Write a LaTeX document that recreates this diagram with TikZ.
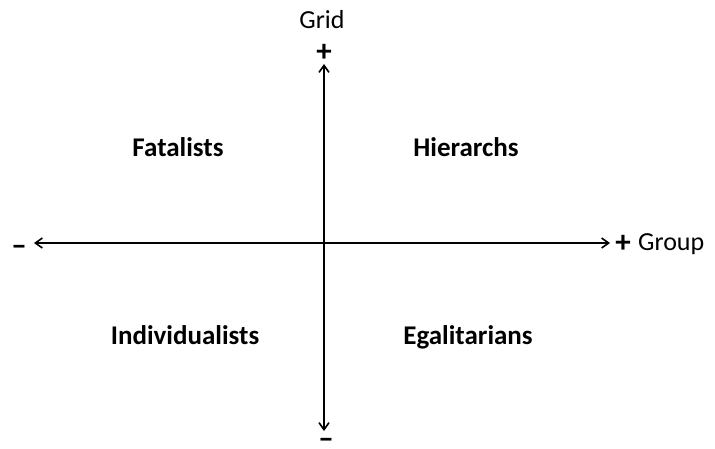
\documentclass[tikz,border=0pt]{standalone}
\usepackage{fontspec}
\setmainfont{Carlito}
\usetikzlibrary{arrows.meta}
\begin{document}
\begin{tikzpicture}[x=1pt,y=-1pt,
  axis/.style={line width=1.6pt,{Straight Barb[length=7pt,width=10pt]}-{Straight Barb[length=7pt,width=10pt]}},
  quad/.style={font=\fontsize{27}{30}\selectfont\bfseries,anchor=base,inner sep=0pt},
  lab/.style={font=\fontsize{26}{28}\selectfont,anchor=base,inner sep=0pt},
  sign/.style={font=\fontsize{31}{32}\selectfont\bfseries,anchor=base,inner sep=0pt}]
\useasboundingbox (0,0) rectangle (715,448);
\coordinate (top) at (324,64);
\coordinate (bot) at (324,431);
\coordinate (left) at (34,243);
\coordinate (right) at (610,243);
\draw[axis] (bot) -- (top);
\draw[axis] (left) -- (right);
\node[lab] (grid) at (322,28) {Grid};
\node[sign] (gp) at (324,61) {+};
\node[sign] (gm) at (326,448) {–};
\node[sign] (hm) at (19,255) {–};
\node[sign] (hp) at (623,252) {+};
\node[lab,anchor=base west] (group) at (638,250) {Group};
\node[quad] (fat) at (178,156) {Fatalists};
\node[quad] (hie) at (466,156) {Hierarchs};
\node[quad] (ind) at (185,344) {Individualists};
\node[quad] (ega) at (468,344) {Egalitarians};
\end{tikzpicture}
\end{document}
